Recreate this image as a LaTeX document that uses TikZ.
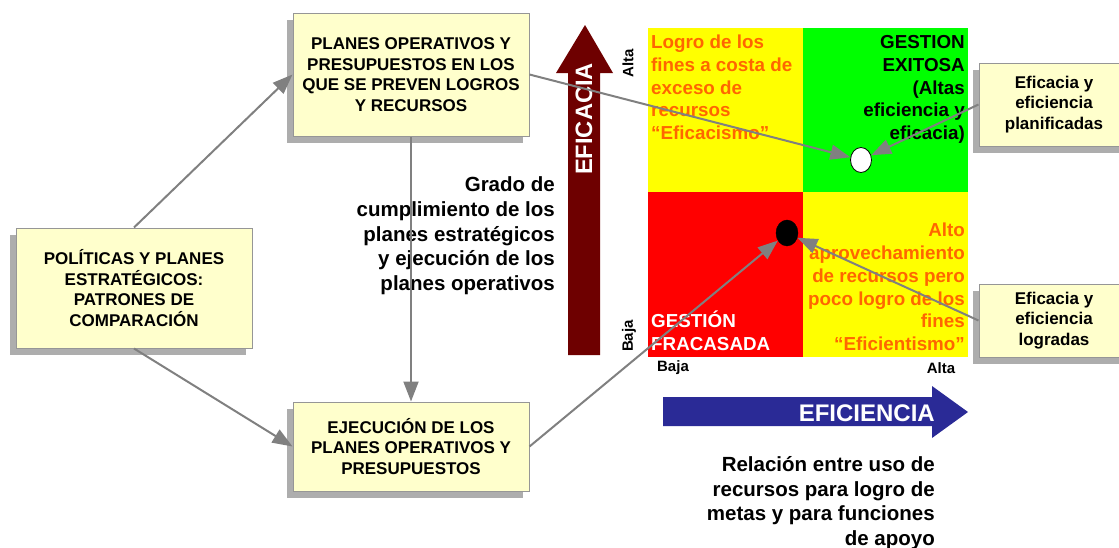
\documentclass[tikz,border=0pt]{standalone}
\usepackage{fontspec}
\setmainfont{Liberation Sans}
\usepackage{tikz}
\usetikzlibrary{shapes.geometric,shadows}
\usetikzlibrary{arrows.meta}
\definecolor{boxfill}{RGB}{255,255,204}
\definecolor{boxline}{RGB}{150,150,150}
\definecolor{linkgray}{RGB}{128,128,128}
\definecolor{quadyellow}{RGB}{255,255,0}
\definecolor{quadgreen}{RGB}{0,255,0}
\definecolor{quadred}{RGB}{255,0,0}
\definecolor{quadorange}{RGB}{255,102,0}
\definecolor{eficred}{RGB}{110,0,0}
\definecolor{eficblue}{RGB}{42,42,150}
\tikzset{>={Triangle[length=20pt,width=15pt]}}
\tikzstyle{planbox}=[draw=boxline,fill=boxfill,line width=1pt,align=center,inner sep=0pt,font=\bfseries\fontsize{17}{20.5}\selectfont,general shadow={fill=black!32,shadow xshift=-6pt,shadow yshift=-7pt}]
\tikzstyle{link}=[->,linkgray,line width=2pt]
\tikzstyle{quadtext}=[inner sep=0pt,font=\bfseries\fontsize{18.8}{22.8}\selectfont]
\tikzstyle{note}=[inner sep=0pt,align=right,font=\bfseries\fontsize{20.5}{24.6}\selectfont]
\tikzstyle{axislabel}=[inner sep=0pt,font=\bfseries\fontsize{15}{18}\selectfont]

\begin{document}
\begin{tikzpicture}[x=1pt,y=-1pt]
\useasboundingbox (0,0) rectangle (1119,547);
\clip (0,0) rectangle (1119,547);

% Boxes
\node[planbox,minimum width=236,minimum height=123] (plans) at (411,74.5)
  {PLANES OPERATIVOS Y\\PRESUPUESTOS EN LOS\\QUE SE PREVEN LOGROS\\Y RECURSOS};
\node[planbox,minimum width=236,minimum height=120] (policies) at (134,288)
  {POLÍTICAS Y PLANES\\ESTRATÉGICOS:\\PATRONES DE\\COMPARACIÓN};
\node[planbox,minimum width=236,minimum height=89] (execution) at (411,446.5)
  {EJECUCIÓN DE LOS\\PLANES OPERATIVOS Y\\PRESUPUESTOS};
\node[planbox,minimum width=150,minimum height=83] (plannedbox) at (1054,104.5)
  {Eficacia y\\eficiencia\\planificadas};
\node[planbox,minimum width=150,minimum height=73] (achievedbox) at (1054,320.5)
  {Eficacia y\\eficiencia\\logradas};

% Middle text (base = last line)
\node[note,anchor=base east] (grado) at (555,290.3)
  {Grado de\\cumplimiento de los\\planes estratégicos\\y ejecución de los\\planes operativos};

% EFICACIA arrow
\fill[eficred] (568,355) -- (568,73) -- (556,73) -- (585,25) -- (613,73) -- (600,73) -- (600,355) -- cycle;
\node[rotate=90,white,inner sep=0pt,font=\bfseries\fontsize{23.7}{28}\selectfont] (eficacia) at (584,119) {EFICACIA};
\node[axislabel,rotate=90] (altav) at (628,63) {Alta};
\node[axislabel,rotate=90] (bajav) at (629,336) {Baja};

% Quadrants
\fill[quadyellow] (648,28) rectangle (803,192);
\fill[quadgreen] (803,28) rectangle (968,192);
\fill[quadred] (648,192) rectangle (803,357);
\fill[quadyellow] (803,192) rectangle (968,357);

\node[quadtext,quadorange,anchor=base west,align=left] (eficacismo) at (651,139.7)
  {Logro de los\\fines a costa de\\exceso de\\recursos\\“Eficacismo”};
\node[quadtext,anchor=base east,align=right] (exitosa) at (965,139.7)
  {GESTION\\EXITOSA\\(Altas\\eficiencia y\\eficacia)};
\node[quadtext,quadorange,anchor=base east,align=right] (eficientismo) at (965,350.7)
  {Alto\\aprovechamiento\\de recursos pero\\poco logro de los\\fines\\“Eficientismo”};
\node[quadtext,white,anchor=base west,align=left] (fracasada) at (651,350.7)
  {GESTIÓN\\FRACASADA};

\node[axislabel] (bajah) at (673,368) {Baja};
\node[axislabel] (altah) at (941,368) {Alta};

% EFICIENCIA arrow
\fill[eficblue] (663,397) -- (932,397) -- (932,386) -- (968,412) -- (932,438) -- (932,426) -- (663,426) -- cycle;
\node[anchor=east,white,inner sep=0pt,font=\bfseries\fontsize{24}{28}\selectfont] (eficiencia) at (935,413) {EFICIENCIA};

\node[note,anchor=base east] (relacion) at (935,545.3)
  {Relación entre uso de\\recursos para logro de\\metas y para funciones\\de apoyo};

% Points
\node[ellipse,draw,fill=white,line width=0.8pt,minimum width=21,minimum height=25,inner sep=0pt] (planned) at (861,160) {};
\node[ellipse,draw,fill=black,minimum width=22,minimum height=26,inner sep=0pt] (achieved) at (787,233) {};

% Links
\draw[link] (policies.north) -- (plans.west);
\draw[link] (policies.south) -- (execution.west);
\draw[link] (plans) -- (execution);
\draw[link] (plans.east) -- (planned);
\draw[link] (execution.east) -- (achieved);
\draw[link] (plannedbox.west) -- (planned);
\draw[link] (achievedbox.west) -- (achieved);

\end{tikzpicture}
\end{document}
